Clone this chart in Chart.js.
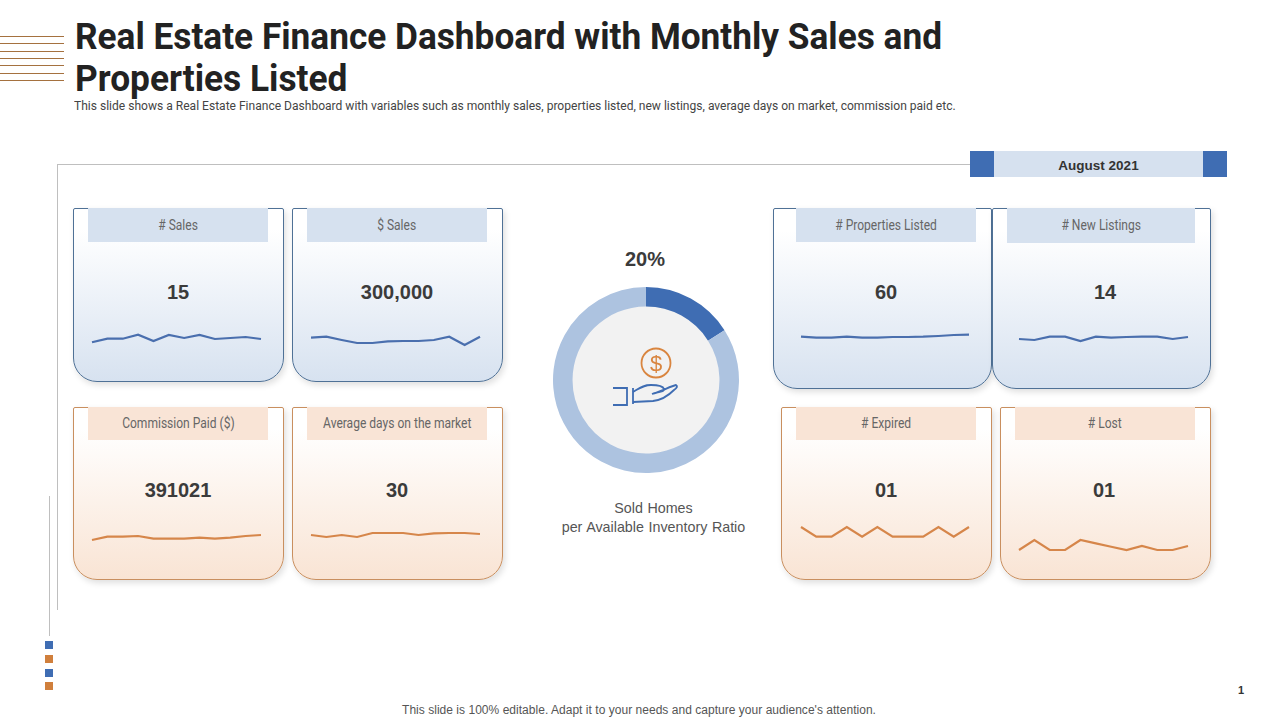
<!DOCTYPE html>
<html>
<head>
<meta charset="utf-8">
<title>Real Estate Finance Dashboard</title>
<script src="https://cdn.jsdelivr.net/npm/chart.js@4.4.4/dist/chart.umd.min.js"></script>
<style>
  html, body { margin: 0; padding: 0; background: #fff; }
  #slide { position: relative; width: 1280px; height: 720px; overflow: hidden; background: #fff;
    font-family: Roboto, "Liberation Sans", sans-serif; color: #555; }
  #slide > * { position: absolute; }
  .rule { background: #a5713f; left: 0; width: 64px; height: 1px; }
  .gray { background: #bfbfbf; }
  .fit { display: inline-block; white-space: nowrap; transform-origin: 0 50%; }
  .title { left: 75px; font-size: 37.5px; line-height: 42px; font-weight: 700; color: #222; }
  .sub { left: 74px; top: 98px; font-size: 13.4px; line-height: 16px; color: #444; }
  .card { box-sizing: border-box; border-radius: 2px 2px 24px 24px; box-shadow: 2px 3px 6px rgba(0,0,0,.13); }
  .card.blue { border: 1px solid #4f7196; background: linear-gradient(#fff 12%, #d7e2f0 100%); }
  .card.orange { border: 1px solid #c98f5f; background: linear-gradient(#fff 12%, #f9e4d4 100%); }
  .head { box-sizing: border-box; text-align: center; font-size: 14px; color: #666; }
  .head span { display: inline-block; white-space: nowrap; transform: scaleX(.86); }
  .head.blue { background: #d6e1ef; }
  .head.orange { background: #f9e4d6; }
  .val { text-align: center; font: 700 20px/24px "Liberation Sans", sans-serif; color: #3b3b3b; }
  .bluebox { background: #3f6db3; }
  .orangebox { background: #d07f3c; }
</style>
</head>
<body>
<div id="slide">
  <div class="rule" style="top:36px"></div>
  <div class="rule" style="top:43px"></div>
  <div class="rule" style="top:51px"></div>
  <div class="rule" style="top:58px"></div>
  <div class="rule" style="top:65px"></div>
  <div class="rule" style="top:73px"></div>
  <div class="rule" style="top:80px"></div>
  <div class="title fit" data-fit="867" style="top:15px">Real Estate Finance Dashboard with Monthly Sales and</div>
  <div class="title fit" data-fit="272" style="top:57px">Properties Listed</div>
  <div class="sub fit" data-fit="882">This slide shows a Real Estate Finance Dashboard with variables such as monthly sales, properties listed, new listings, average days on market, commission paid etc.</div>

  <div class="gray" style="left:57px;top:164px;width:913px;height:1px"></div>
  <div class="gray" style="left:57px;top:164px;width:1px;height:446px"></div>
  <div class="gray" style="left:49px;top:496px;width:1px;height:140px"></div>
  <div class="bluebox" style="left:45px;top:641px;width:8px;height:8px"></div>
  <div class="orangebox" style="left:45px;top:655px;width:8px;height:8px"></div>
  <div class="bluebox" style="left:45px;top:669px;width:8px;height:8px"></div>
  <div class="orangebox" style="left:45px;top:682px;width:8px;height:8px"></div>

  <div class="bluebox" style="left:970px;top:151px;width:24px;height:26px"></div>
  <div style="left:994px;top:151px;width:209px;height:26px;background:#d6e1ef;text-align:center;font:700 13.5px/29px 'Liberation Sans',sans-serif;color:#333">August 2021</div>
  <div class="bluebox" style="left:1203px;top:151px;width:24px;height:26px"></div>

  <div style="left:570px;top:305px;width:150px;height:150px;border-radius:50%;background:#f2f2f2"></div>
  <canvas id="ratio" width="190" height="190" style="left:550.5px;top:285px;width:190px;height:190px"></canvas>
  <svg style="left:605px;top:342px" width="80" height="70" viewBox="0 0 80 70" fill="none">
    <circle cx="51" cy="21" r="14.5" stroke="#d9853f" stroke-width="1.8"/>
    <text x="51" y="28.5" text-anchor="middle" font-family="Liberation Sans" font-size="22" fill="#d9853f">$</text>
    <path d="M8 46H22V63H8M22 46V63M28 46V62" stroke="#3f6db3" stroke-width="1.8"/>
    <path d="M28 50C35 46 38 43 46 43C52 43 58 44 59 47C60 50 52 50 47 52C55 50 66 44 71 43C73 44 72 46 69 48C63 54 57 58 48 59L28 60" stroke="#3f6db3" stroke-width="1.8"/>
  </svg>
  <div class="val" id="ratioText" style="left:545px;top:247px;width:200px"></div>
  <div style="left:545px;top:499px;width:217px;text-align:center;font:14.3px/19px 'Liberation Sans',sans-serif;color:#555;word-spacing:.6px">Sold Homes<br>per Available Inventory Ratio</div>

  <div style="left:0;top:702px;width:1278px;text-align:center;font:12px/16px 'Liberation Sans',sans-serif;color:#555;letter-spacing:.03px">This slide is 100% editable. Adapt it to your needs and capture your audience's attention.</div>
  <div style="left:1238px;top:683px;font:700 11px/14px 'Liberation Sans',sans-serif;color:#333">1</div>
</div>

<script>
// Values. The sparklines have no axis, so they are on a 0-40 index scale.
const months = ['1', '2', '3', '4', '5', '6', '7', '8', '9', '10', '11', '12'];

const salesCount = [17.7, 21.3, 21.3, 25.3, 19, 25, 22, 25, 21, 22, 23, 21];
const salesAmount = [22.3, 23.3, 20, 17, 17, 18.7, 19, 19, 20, 23.3, 15, 23.3];
const commission = [20, 23.3, 23.3, 24, 21.3, 21.3, 21.3, 22.3, 21.3, 22.3, 24, 25];
const avgDays = [25, 23, 25, 23, 27, 27, 27, 25, 26.7, 27, 27, 26];
const propertiesListed = [23.3, 22.3, 22.3, 23.3, 22.3, 22.3, 23, 23, 23.3, 24, 25, 25.3];
const newListings = [21, 20, 23.3, 23.3, 19, 23.3, 22.3, 23, 23.3, 23.3, 21, 23];
const expired = [33, 23.3, 23.3, 33, 23.3, 33, 23.3, 23.3, 23.3, 33, 23.3, 33];
const lost = [10, 20, 10, 10, 20, 16.7, 13.3, 10, 14, 10, 10, 14];

const kpiLabels = ['# Sales', '$ Sales', 'Commission Paid ($)', 'Average days on the market',
  '# Properties Listed', '# New Listings', '# Expired', '# Lost'];
const kpiValues = ['15', '300,000', '391021', '30', '60', '14', '01', '01'];
const kpiSeries = [salesCount, salesAmount, commission, avgDays, propertiesListed, newListings, expired, lost];

const ratioLabel = '20%';
const ratioSlices = [16, 84]; // the arc itself is drawn shorter than its 20% label

// card box, header box, sparkline x range, sparkline zero line, text centre
const layout = [
  { c: 'blue', x: 73, y: 208, w: 211, h: 174, hx: 88, hw: 180, hh: 34, sx: 91.7, sw: 169, base: 360, cx: 178, vy: 280 },
  { c: 'blue', x: 292, y: 208, w: 211, h: 174, hx: 307, hw: 180, hh: 34, sx: 310.7, sw: 169, base: 360, cx: 397, vy: 280 },
  { c: 'orange', x: 73, y: 407, w: 211, h: 173, hx: 88, hw: 180, hh: 33, sx: 91.7, sw: 169, base: 560, cx: 178, vy: 478 },
  { c: 'orange', x: 292, y: 407, w: 211, h: 173, hx: 307, hw: 180, hh: 33, sx: 310.7, sw: 169, base: 560, cx: 397, vy: 478 },
  { c: 'blue', x: 773, y: 208, w: 219, h: 181, hx: 796, hw: 180, hh: 34, sx: 800.7, sw: 168, base: 360, cx: 886, vy: 280 },
  { c: 'blue', x: 992, y: 208, w: 219, h: 181, hx: 1007, hw: 188, hh: 35, sx: 1019, sw: 169, base: 360, cx: 1105, vy: 280 },
  { c: 'orange', x: 781, y: 407, w: 211, h: 173, hx: 796, hw: 180, hh: 33, sx: 800.7, sw: 168, base: 560, cx: 886, vy: 478 },
  { c: 'orange', x: 1000, y: 407, w: 211, h: 173, hx: 1015, hw: 180, hh: 33, sx: 1019, sw: 169, base: 560, cx: 1104, vy: 478 },
];

const lineColors = { blue: '#4a6fae', orange: '#d6864a' };
const PAD = 2;
const slide = document.getElementById('slide');

function addBox(className, left, top, width, height) {
  const el = document.createElement('div');
  el.className = className;
  el.style.cssText = `left:${left}px;top:${top}px;width:${width}px;height:${height}px`;
  slide.appendChild(el);
  return el;
}

function drawSparkline(pos, values) {
  const canvas = document.createElement('canvas');
  canvas.width = pos.sw + PAD * 2;
  canvas.height = 40 + PAD * 2;
  canvas.style.cssText = `left:${pos.sx - PAD}px;top:${pos.base - 40 - PAD}px;width:${canvas.width}px;height:${canvas.height}px`;
  slide.appendChild(canvas);
  new Chart(canvas, {
    type: 'line',
    data: {
      labels: months,
      datasets: [{ data: values, borderColor: lineColors[pos.c], borderWidth: 2.2, pointRadius: 0, tension: 0, clip: false }],
    },
    options: {
      responsive: false,
      animation: false,
      layout: { padding: PAD },
      plugins: { legend: { display: false }, tooltip: { enabled: false } },
      scales: {
        x: { display: false, offset: false },
        y: { display: false, min: 0, max: 40 },
      },
    },
  });
}

layout.forEach((pos, i) => {
  addBox(`card ${pos.c}`, pos.x, pos.y, pos.w, pos.h);
  const head = addBox(`head ${pos.c}`, pos.hx, pos.y, pos.hw, pos.hh);
  head.style.lineHeight = `${pos.hh}px`;
  const label = document.createElement('span');
  label.textContent = kpiLabels[i];
  head.appendChild(label);
  addBox('val', pos.cx - 100, pos.vy, 200, 24).textContent = kpiValues[i];
  drawSparkline(pos, kpiSeries[i]);
});

document.getElementById('ratioText').textContent = ratioLabel;

// no condensed face is installed, so squeeze these lines to the width they have on the slide
document.querySelectorAll('[data-fit]').forEach((el) => {
  el.style.transform = `scaleX(${Number(el.dataset.fit) / el.offsetWidth})`;
});

new Chart(document.getElementById('ratio'), {
  type: 'doughnut',
  data: {
    labels: ['Sold', 'Available'],
    datasets: [{ data: ratioSlices, backgroundColor: ['#3f6db3', '#adc3e0'], borderWidth: 0 }],
  },
  options: {
    responsive: false,
    animation: false,
    cutout: '79%',
    layout: { padding: 2 },
    plugins: { legend: { display: false }, tooltip: { enabled: false } },
  },
});
</script>
</body>
</html>
